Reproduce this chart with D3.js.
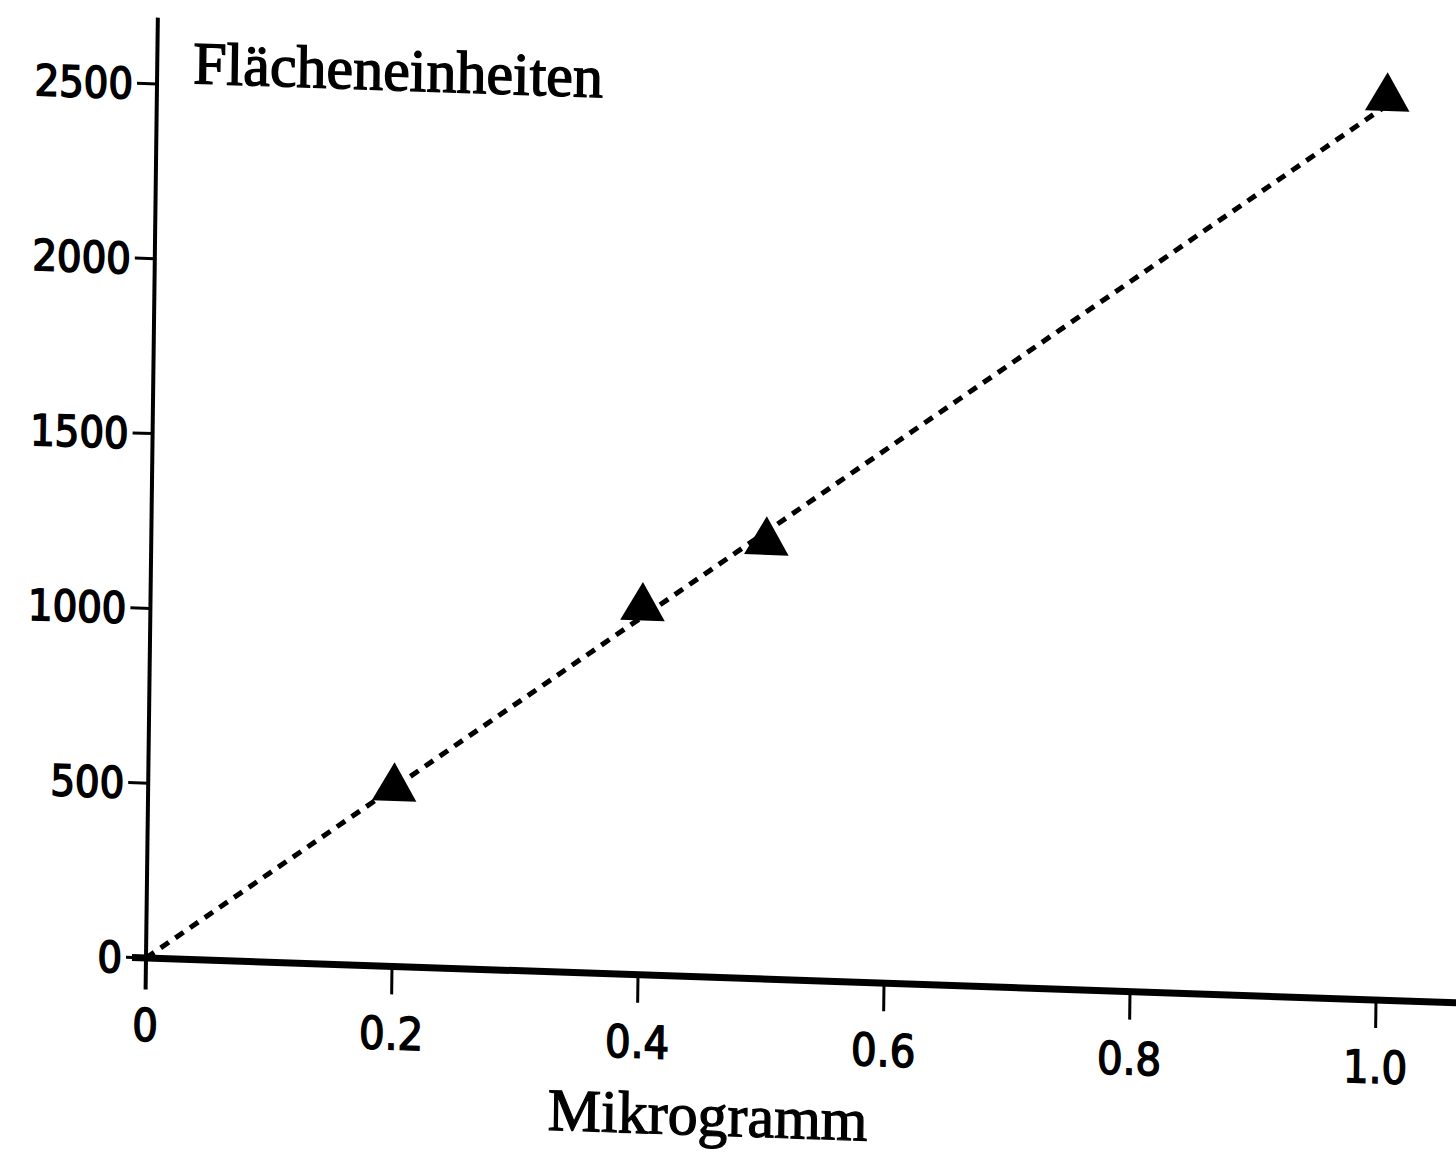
<!DOCTYPE html>
<html>
<head>
<meta charset="utf-8">
<script src="https://cdn.jsdelivr.net/npm/d3@7"></script>
<style>
  html, body { margin: 0; padding: 0; background: #fff; }
  svg { display: block; }
</style>
</head>
<body>
<div id="chart"></div>
<script>
// measured points (Mikrogramm -> Flächeneinheiten)
const mikrogramm = [0.2, 0.4, 0.5, 1.0];
const flaechen = [510, 1050, 1250, 2580];

// dashed calibration line end points
const lineX = [0, 1.0];
const lineY = [0, 2560];

const xTicks = [0, 0.2, 0.4, 0.6, 0.8, 1.0];
const xTickLabels = ['0', '0.2', '0.4', '0.6', '0.8', '1.0'];
const yTicks = [0, 500, 1000, 1500, 2000, 2500];

const W = 1456, H = 1159;

const svg = d3.select('#chart')
  .append('svg')
  .attr('width', W)
  .attr('height', H);

// the scanned page is slightly skewed, so the plot frame is drawn in an
// unskewed local frame and then mapped with an affine matrix
const g = svg.append('g')
  .attr('transform', 'matrix(1,0.03415,-0.01259,1,146,958)');

const x = d3.scaleLinear().domain([0, 1]).range([0, 1230]);
const y = d3.scaleLinear().domain([0, 2500]).range([0, -874]);

const sansFont = '"DejaVu Sans Condensed", "DejaVu Sans", sans-serif';
const serifFont = '"Liberation Serif", "DejaVu Serif", serif';

// axis lines
g.append('line')
  .attr('x1', 0).attr('x2', 0)
  .attr('y1', y(-90)).attr('y2', y(2690))
  .attr('stroke', '#000').attr('stroke-width', 4);

g.append('line')
  .attr('x1', -14).attr('x2', x(1.07))
  .attr('y1', 0).attr('y2', 0)
  .attr('stroke', '#000').attr('stroke-width', 7);

// y ticks
const yt = g.append('g');
yt.selectAll('line')
  .data(yTicks)
  .join('line')
  .attr('x1', -20).attr('x2', 0)
  .attr('y1', d => y(d)).attr('y2', d => y(d))
  .attr('stroke', '#000').attr('stroke-width', 3);

yt.selectAll('text')
  .data(yTicks)
  .join('text')
  .attr('x', -24)
  .attr('y', d => y(d))
  .attr('dy', '0.36em')
  .attr('text-anchor', 'end')
  .style('font-family', sansFont)
  .style('font-size', '43px')
  .style('fill', '#000')
  .style('stroke', '#000')
  .style('stroke-width', 1.6)
  .text(d => d);

// x ticks
const xt = g.append('g');
xt.selectAll('line')
  .data(xTicks.slice(1))
  .join('line')
  .attr('x1', d => x(d)).attr('x2', d => x(d))
  .attr('y1', 0).attr('y2', 28)
  .attr('stroke', '#000').attr('stroke-width', 3);

xt.selectAll('text')
  .data(xTicks)
  .join('text')
  .attr('x', d => x(d))
  .attr('y', 83)
  .attr('text-anchor', 'middle')
  .style('font-family', sansFont)
  .style('font-size', '45px')
  .style('fill', '#000')
  .style('stroke', '#000')
  .style('stroke-width', 1.4)
  .text((d, i) => xTickLabels[i]);

// axis titles
g.append('text')
  .attr('x', 36)
  .attr('y', -876)
  .style('font-family', serifFont)
  .style('font-size', '60px')
  .style('fill', '#000')
  .style('stroke', '#000')
  .style('stroke-width', 1.4)
  .text('Flächeneinheiten');

g.append('text')
  .attr('x', x(0.458))
  .attr('y', 158)
  .attr('text-anchor', 'middle')
  .style('font-family', serifFont)
  .style('font-size', '60px')
  .style('fill', '#000')
  .style('stroke', '#000')
  .style('stroke-width', 1.2)
  .text('Mikrogramm');

// dashed line
const line = d3.line()
  .x(d => x(d[0]))
  .y(d => y(d[1]));

g.append('path')
  .datum(d3.zip(lineX, lineY))
  .attr('d', line)
  .attr('fill', 'none')
  .attr('stroke', '#000')
  .attr('stroke-width', 5)
  .attr('stroke-dasharray', '10,8');

// triangle markers
g.selectAll('path.pt')
  .data(d3.zip(mikrogramm, flaechen))
  .join('path')
  .attr('class', 'pt')
  .attr('transform', d => `translate(${x(d[0])},${y(d[1])})`)
  .attr('d', d3.symbol().type(d3.symbolTriangle).size(860))
  .attr('fill', '#000');
</script>
</body>
</html>
